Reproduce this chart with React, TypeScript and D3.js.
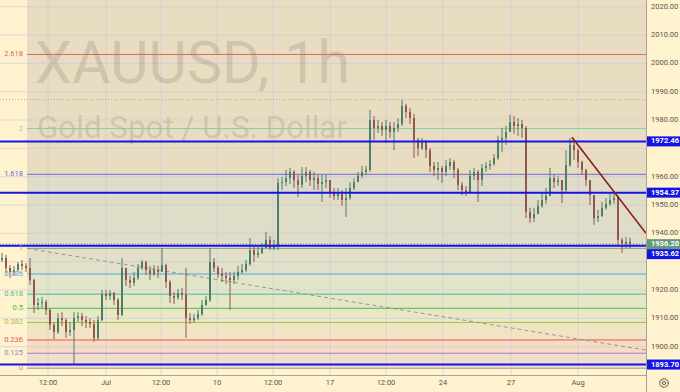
import React from "react";
import * as d3 from "d3";

const WIDTH = 680;
const HEIGHT = 392;
const PLOT_RIGHT = 646;
const PLOT_BOTTOM = 375;
const FONT = "Roboto, 'Liberation Sans', Arial, sans-serif";

const FIRST_OPEN = 1930.6;
const highs = [
  1933.1, 1932.4, 1928.8, 1928.5, 1929.9, 1930.6, 1929.5, 1931.3, 1924.0, 1917.2,
  1917.5, 1916.5, 1913.4, 1908.7, 1911.9, 1912.2, 1910.1, 1908.7, 1912.2, 1912.2,
  1911.9, 1910.8, 1910.1, 1909.4, 1910.8, 1920.0, 1920.0, 1920.0, 1919.3, 1917.2,
  1931.3, 1927.8, 1925.0, 1926.4, 1929.2, 1930.6, 1930.3, 1928.5, 1928.8, 1928.5,
  1934.8, 1929.3, 1923.5, 1919.3, 1920.4, 1920.7, 1927.8, 1911.9, 1911.5, 1913.0,
  1916.5, 1917.9, 1934.8, 1931.3, 1928.5, 1927.8, 1926.4, 1926.4, 1926.4, 1928.5,
  1929.2, 1930.6, 1938.4, 1935.5, 1935.2, 1936.6, 1940.5, 1939.1, 1937.7, 1959.5,
  1959.9, 1962.4, 1963.1, 1962.4, 1960.6, 1963.4, 1963.4, 1962.4, 1961.7, 1960.6,
  1960.6, 1961.0, 1958.8, 1956.0, 1956.0, 1955.3, 1956.0, 1958.1, 1959.5, 1961.7,
  1963.8, 1963.8, 1983.6, 1981.4, 1980.0, 1979.3, 1980.0, 1979.3, 1979.3, 1980.7,
  1987.1, 1985.7, 1984.3, 1982.1, 1973.7, 1973.7, 1973.0, 1970.1, 1965.2, 1965.2,
  1963.8, 1965.9, 1966.6, 1965.9, 1963.1, 1958.1, 1956.7, 1962.4, 1963.1, 1962.4,
  1964.5, 1965.2, 1965.9, 1968.0, 1974.4, 1977.2, 1977.9, 1981.8, 1981.4, 1980.7,
  1980.0, 1977.9, 1949.0, 1949.0, 1951.8, 1954.6, 1956.0, 1963.1, 1960.6, 1960.3,
  1958.8, 1969.4, 1973.7, 1973.0, 1969.8, 1965.6, 1962.8, 1958.8, 1953.5, 1948.3,
  1951.1, 1952.5, 1953.9, 1954.6, 1953.2, 1938.4, 1938.7, 1938.4,
];
const lows = [
  1929.9, 1926.0, 1924.3, 1925.0, 1926.4, 1927.1, 1926.4, 1921.8, 1911.9, 1913.0,
  1913.7, 1911.2, 1905.9, 1902.7, 1904.5, 1907.3, 1903.1, 1903.8, 1893.5, 1908.7,
  1907.3, 1906.6, 1906.6, 1901.7, 1902.4, 1909.0, 1916.5, 1916.5, 1914.7, 1909.4,
  1910.8, 1921.4, 1920.7, 1921.4, 1923.5, 1927.1, 1925.3, 1923.5, 1925.0, 1924.3,
  1926.4, 1920.7, 1915.4, 1915.1, 1916.5, 1916.5, 1903.1, 1908.0, 1908.4, 1909.4,
  1910.8, 1914.4, 1915.8, 1926.4, 1924.3, 1922.8, 1922.1, 1913.0, 1922.1, 1923.5,
  1925.7, 1926.4, 1928.5, 1929.9, 1931.3, 1932.7, 1934.8, 1934.1, 1934.1, 1934.1,
  1955.3, 1956.7, 1957.4, 1956.0, 1952.8, 1956.0, 1958.1, 1956.7, 1955.3, 1955.3,
  1951.1, 1956.0, 1952.5, 1951.8, 1951.8, 1949.7, 1945.8, 1951.8, 1955.3, 1958.1,
  1959.5, 1960.6, 1961.7, 1973.0, 1975.4, 1974.4, 1971.9, 1973.7, 1969.4, 1975.8,
  1977.9, 1980.7, 1978.6, 1966.6, 1967.3, 1969.4, 1966.6, 1961.7, 1960.3, 1958.8,
  1957.8, 1960.3, 1962.4, 1959.5, 1955.3, 1953.5, 1953.2, 1953.9, 1958.8, 1951.1,
  1956.7, 1961.7, 1962.4, 1963.8, 1965.9, 1968.7, 1971.2, 1975.8, 1975.1, 1974.4,
  1973.7, 1945.4, 1943.7, 1944.0, 1946.8, 1949.0, 1950.4, 1953.2, 1956.0, 1956.7,
  1950.7, 1954.6, 1963.5, 1965.9, 1963.1, 1960.6, 1956.7, 1950.0, 1943.0, 1944.0,
  1945.8, 1948.3, 1949.7, 1950.4, 1935.5, 1933.1, 1934.8, 1934.8,
];
const closes = [
  1931.3, 1927.8, 1926.4, 1927.1, 1929.2, 1928.5, 1927.8, 1923.5, 1914.7, 1915.4,
  1915.8, 1913.0, 1907.7, 1905.2, 1910.1, 1909.4, 1905.2, 1905.9, 1910.1, 1910.8,
  1909.4, 1908.7, 1908.0, 1903.1, 1909.4, 1918.6, 1917.9, 1919.0, 1916.5, 1911.2,
  1927.8, 1923.5, 1922.5, 1924.3, 1927.8, 1929.9, 1927.1, 1925.7, 1927.1, 1926.4,
  1928.8, 1922.8, 1917.9, 1917.2, 1919.0, 1918.3, 1910.1, 1909.4, 1910.1, 1911.5,
  1914.7, 1916.5, 1929.9, 1927.8, 1925.7, 1925.0, 1924.3, 1923.5, 1925.0, 1926.4,
  1927.1, 1929.2, 1934.1, 1932.4, 1933.1, 1934.8, 1937.7, 1934.8, 1935.5, 1957.8,
  1958.1, 1959.5, 1961.7, 1958.8, 1957.1, 1960.3, 1961.7, 1958.8, 1959.5, 1957.4,
  1958.1, 1958.8, 1954.6, 1953.2, 1953.9, 1951.8, 1952.5, 1956.0, 1958.1, 1960.3,
  1961.7, 1962.4, 1980.0, 1977.2, 1977.9, 1976.5, 1977.9, 1975.8, 1977.2, 1978.6,
  1985.0, 1982.8, 1980.7, 1973.0, 1970.1, 1972.3, 1969.4, 1963.8, 1962.4, 1963.1,
  1961.7, 1963.8, 1965.2, 1962.4, 1957.1, 1955.3, 1954.6, 1960.3, 1961.7, 1958.8,
  1963.1, 1963.8, 1964.5, 1966.6, 1973.0, 1973.7, 1975.8, 1979.3, 1977.9, 1978.6,
  1977.2, 1947.5, 1945.4, 1946.8, 1949.7, 1951.8, 1953.2, 1959.5, 1958.1, 1958.8,
  1955.3, 1964.1, 1971.2, 1969.4, 1965.2, 1962.4, 1958.8, 1953.5, 1945.4, 1946.1,
  1949.0, 1950.4, 1951.8, 1952.5, 1937.7, 1936.3, 1937.0, 1936.2,
];

const priceTicks = [1900, 1910, 1920, 1930, 1940, 1950, 1960, 1970, 1980, 1990, 2000, 2010, 2020];
const timeTickBars = [11.5, 26, 39.75, 53.75, 67.75, 82, 96, 110.25, 127.25, 144];
const timeTickLabels = ["12:00", "Jul", "12:00", "10", "12:00", "17", "12:00", "24", "27", "Aug"];

// fib retracement
const FIB_LOW = 1892.4;
const FIB_HIGH = 1934.7;
const FIB_START_BAR = 6.25;
const fibLevels = [0, 0.125, 0.236, 0.382, 0.5, 0.618, 0.786, 1, 1.618, 2, 2.618];
const fibLabels = ["0", "0.125", "0.236", "0.382", "0.5", "0.618", "0.786", "1", "1.618", "2", "2.618"];
const fibColors = ["#a09a94", "#9b80d2", "#e05a58", "#a4c23c", "#4cbb4c", "#3fbf94", "#55a9dc", "#9a968e", "#6a6ad6", "#7fd3a8", "#e06464"];
// band above each level, up to the next one (the last one runs to the top)
const fibBandFills = ["#f3ddcb", "#f6dcc4", "#efe5c5", "#e9e8c4", "#e5e8c6", "#e3e5c9", "#e1e0c9", "#dfdcc8", "#e8dcc1", "#e8dcc1", "#e8dcc1"];

const levelPrices = [1972.46, 1954.37, 1935.62, 1893.7];
const LAST_PRICE = 1936.2;
const DOTTED_LEVEL = 1987.2;

const fibTrend = [{ bar: 6.25, price: 1934.7 }, { bar: 161, price: 1898.8 }];
const downTrend = [{ bar: 142.5, price: 1973.9 }, { bar: 161, price: 1940.0 }];

const BG = "#fef2cf";
const UP = "#4f7d6a";
const DOWN = "#8e5750";
const BLUE = "#1414e6";

export default function App() {
  const x = d3.scaleLinear().domain([0, 161]).range([2, PLOT_RIGHT]);
  const y = d3.scaleLinear().domain([1900, 2020]).range([346.7, 6.7]);
  const fibPrice = (l: number) => FIB_LOW + l * (FIB_HIGH - FIB_LOW);
  const fibX = x(FIB_START_BAR);

  const opens = closes.map((_, i) => (i === 0 ? FIRST_OPEN : closes[i - 1]));

  // price boxes on the right axis, pushed down if they collide
  const boxes = [
    ...levelPrices.map((p) => ({ price: p, color: BLUE })),
    { price: LAST_PRICE, color: "#62997a" },
  ].sort((a, b) => y(a.price) - y(b.price));
  let lastY = -100;
  const placed = boxes.map((b) => {
    const cy = Math.max(y(b.price), lastY + 10);
    lastY = cy;
    return { ...b, cy };
  });

  // axis labels hidden behind a price box are clipped by it in the original
  const visibleTicks = priceTicks.filter((p) => placed.every((b) => Math.abs(y(p) - b.cy) > 8.5));

  const line = d3
    .line<{ bar: number; price: number }>()
    .x((d) => x(d.bar))
    .y((d) => y(d.price));

  return (
    <svg
      width={WIDTH}
      height={HEIGHT}
      style={{ position: "absolute", left: 0, top: 0 }}
      fontFamily={FONT}
    >
      <defs>
        <clipPath id="plot">
          <rect x={0} y={0} width={PLOT_RIGHT} height={PLOT_BOTTOM} />
        </clipPath>
      </defs>
      <rect x={0} y={0} width={WIDTH} height={HEIGHT} fill={BG} />

      <g clipPath="url(#plot)">
        {/* fib bands */}
        {fibLevels.map((l, i) => {
          const top = i + 1 < fibLevels.length ? y(fibPrice(fibLevels[i + 1])) : 0;
          const bottom = y(fibPrice(l));
          return (
            <rect key={"band" + i} x={fibX} y={top} width={PLOT_RIGHT - fibX} height={bottom - top} fill={fibBandFills[i]} />
          );
        })}

        {/* grid */}
        {priceTicks.map((p) => (
          <line key={"gy" + p} x1={0} x2={PLOT_RIGHT} y1={y(p)} y2={y(p)} stroke="#cdc6dc" strokeOpacity={0.6} />
        ))}
        {timeTickBars.map((b, i) => (
          <line key={"gx" + i} x1={x(b)} x2={x(b)} y1={0} y2={PLOT_BOTTOM} stroke="#cdc6dc" strokeOpacity={0.6} />
        ))}

        {/* watermark */}
        <text x={35} y={83} fontSize={60} fill="rgba(110,100,90,0.2)" textLength={315} lengthAdjust="spacingAndGlyphs">
          XAUUSD, 1h
        </text>
        <text x={37} y={138} fontSize={32} fill="rgba(110,100,90,0.2)" textLength={310} lengthAdjust="spacingAndGlyphs">
          Gold Spot / U.S. Dollar
        </text>

        {/* fib level lines */}
        {fibLevels.map((l, i) => (
          <line key={"fl" + i} x1={fibX} x2={PLOT_RIGHT} y1={y(fibPrice(l))} y2={y(fibPrice(l))} stroke={fibColors[i]} strokeWidth={1} />
        ))}

        <line x1={0} x2={PLOT_RIGHT} y1={y(DOTTED_LEVEL)} y2={y(DOTTED_LEVEL)} stroke="#b3aaa0" strokeDasharray="1 2" />
        <path d={line(fibTrend) || ""} stroke="#9a958e" strokeDasharray="4 3" fill="none" />

        {/* candles */}
        {closes.map((c, i) => {
          const o = opens[i];
          const hi = Math.max(highs[i], o, c);
          const lo = Math.min(lows[i], o, c);
          const col = c >= o ? UP : DOWN;
          const cx = x(i);
          const top = y(Math.max(o, c));
          const h = Math.max(1, y(Math.min(o, c)) - top);
          return (
            <g key={"c" + i}>
              <line x1={cx} x2={cx} y1={y(hi)} y2={y(lo)} stroke={col} strokeWidth={1} />
              <rect x={cx - 1} y={top} width={2} height={h} fill={col} />
            </g>
          );
        })}

        {/* horizontal levels */}
        <line x1={0} x2={PLOT_RIGHT} y1={y(LAST_PRICE)} y2={y(LAST_PRICE)} stroke="#62997a" strokeDasharray="1 2" />
        {levelPrices.map((p) => (
          <line key={"hl" + p} x1={0} x2={PLOT_RIGHT} y1={y(p)} y2={y(p)} stroke={BLUE} strokeWidth={2} />
        ))}

        <path d={line(downTrend) || ""} stroke="#8b1c1c" strokeWidth={1.6} fill="none" />
      </g>

      {/* fib labels */}
      {fibLevels.map((l, i) => (
        <text key={"ft" + i} x={fibX - 4} y={y(fibPrice(l))} fontSize={7.5} textAnchor="end" dominantBaseline="middle" fill={fibColors[i]}>
          {fibLabels[i]}
        </text>
      ))}

      {/* axes */}
      <rect x={PLOT_RIGHT} y={0} width={WIDTH - PLOT_RIGHT} height={HEIGHT} fill={BG} />
      <rect x={0} y={PLOT_BOTTOM} width={PLOT_RIGHT} height={HEIGHT - PLOT_BOTTOM} fill={BG} />
      <line x1={PLOT_RIGHT + 0.5} x2={PLOT_RIGHT + 0.5} y1={0} y2={HEIGHT} stroke="#aaa394" />
      <line x1={0} x2={PLOT_RIGHT} y1={PLOT_BOTTOM + 0.5} y2={PLOT_BOTTOM + 0.5} stroke="#aaa394" />

      {visibleTicks.map((p) => (
        <text key={"pt" + p} x={651} y={y(p)} fontSize={7.5} dominantBaseline="middle" fill="#5a5650">
          {p.toFixed(2)}
        </text>
      ))}
      {timeTickBars.map((b, i) => (
        <text key={"tt" + i} x={x(b)} y={383} fontSize={7.5} textAnchor="middle" dominantBaseline="middle" fill="#5a5650">
          {timeTickLabels[i]}
        </text>
      ))}

      {placed.map((b) => (
        <g key={"bx" + b.price}>
          <rect x={PLOT_RIGHT + 1} y={b.cy - 5} width={WIDTH - PLOT_RIGHT - 1} height={10} fill={b.color} />
          <text x={651} y={b.cy} fontSize={7.5} fontWeight="bold" dominantBaseline="middle" fill="#ffffff">
            {b.price.toFixed(2)}
          </text>
        </g>
      ))}

      {/* settings gear */}
      <circle cx={664} cy={383} r={4.2} fill="none" stroke="#5a5650" strokeWidth={1.2} strokeDasharray="1.6 0.6" />
      <circle cx={664} cy={383} r={1.6} fill="none" stroke="#5a5650" strokeWidth={1} />
    </svg>
  );
}
